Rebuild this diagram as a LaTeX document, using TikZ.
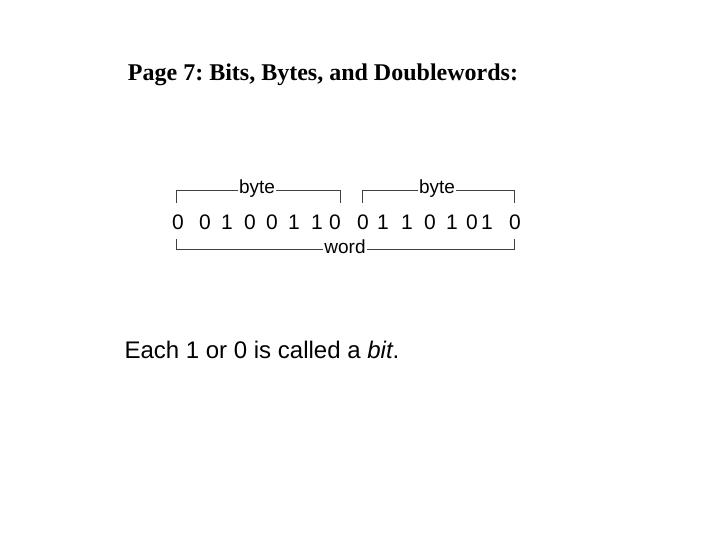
\documentclass[tikz,border=0pt]{standalone}
\usepackage{fontspec}
\setmainfont{Liberation Serif}
\setsansfont{Liberation Sans}
\frenchspacing
\tikzstyle{bit}=[font=\sffamily\fontsize{21}{21}\selectfont, inner sep=0pt, anchor=center]
\tikzstyle{brace}=[line width=0.8pt, black!75]
\tikzstyle{tag}=[font=\sffamily\fontsize{19}{19}\selectfont, fill=white, inner sep=1pt]

\begin{document}
\begin{tikzpicture}[x=1pt,y=-1pt]
  \useasboundingbox (0,0) rectangle (720,540);
  \draw (323,75) node[font=\bfseries\fontsize{24}{24}\selectfont] (title) {Page 7: Bits, Bytes, and Doublewords:};

  \draw (178,222) node[bit] (B1) {0};
  \draw (205,222) node[bit] (B2) {0};
  \draw (227,222) node[bit] (B3) {1};
  \draw (250,222) node[bit] (B4) {0};
  \draw (272,222) node[bit] (B5) {0};
  \draw (294,222) node[bit] (B6) {1};
  \draw (317,222) node[bit] (B7) {1};
  \draw (335,222) node[bit] (B8) {0};
  \draw (363,222) node[bit] (B9) {0};
  \draw (383,222) node[bit] (B10) {1};
  \draw (407,222) node[bit] (B11) {1};
  \draw (430,222) node[bit] (B12) {0};
  \draw (452,222) node[bit] (B13) {1};
  \draw (472,222) node[bit] (B14) {0};
  \draw (487,222) node[bit] (B15) {1};
  \draw (515,222) node[bit] (B16) {0};

  %% Brackets
  \coordinate (L1a) at (176,203);
  \coordinate (L1b) at (176,190.5);
  \coordinate (R1b) at (340,190.5);
  \coordinate (R1a) at (340,203);
  \coordinate (L2a) at (362,203);
  \coordinate (L2b) at (362,190.5);
  \coordinate (R2b) at (514,190.5);
  \coordinate (R2a) at (514,203);
  \coordinate (L3a) at (176,239);
  \coordinate (L3b) at (176,249);
  \coordinate (R3b) at (514,249);
  \coordinate (R3a) at (514,239);

  \draw[brace] (L1a) -- (L1b) -- (R1b) -- (R1a);
  \draw[brace] (L2a) -- (L2b) -- (R2b) -- (R2a);
  \draw[brace] (L3a) -- (L3b) -- (R3b) -- (R3a);
  \draw (257,188.5) node[tag] (byte1) {byte};
  \draw (437,188.5) node[tag] (byte2) {byte};
  \draw (345,247) node[tag] (word) {word};

  \draw (121,350) node[anchor=west, font=\sffamily\fontsize{24}{24}\selectfont] (note) {Each 1 or 0 is called a \textit{bit}.};
\end{tikzpicture}
\end{document}
